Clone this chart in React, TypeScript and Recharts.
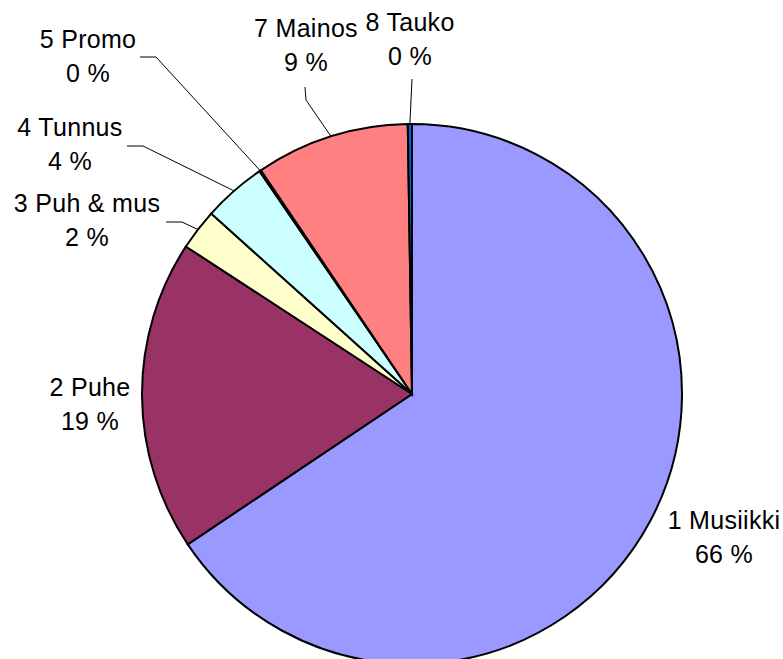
import { PieChart, Pie, Cell } from 'recharts';

// 番組内容の内訳
const categories = ['1 Musiikki', '2 Puhe', '3 Puh & mus', '4 Tunnus', '5 Promo', '7 Mainos', '8 Tauko'];
const values = [65.6, 18.6, 2.45, 3.8, 0.1, 9.2, 0.25];
const colors = ['#9999FF', '#993366', '#FFFFCC', '#CCFFFF', '#660066', '#FF8080', '#0066CC'];

// ラベル位置（円の中心からの相対座標）と引き出し線の折れ点
const labelOffsets: [number, number][] = [
  [312, 126],
  [-322, -7],
  [-325, -191],
  [-342, -267],
  [-324, -355],
  [-106, -366],
  [-2, -372],
];
const leaderPoints: ([number, number][] | null)[] = [
  null,
  null,
  [[-246, -172], [-230, -172]],
  [[-285, -248], [-269, -248]],
  [[-272, -337], [-256, -337]],
  [[-107, -307], [-106, -294]],
  [[0, -315]],
];

const RAD = Math.PI / 180;
const FONT = '"Liberation Sans", Arial, sans-serif';

const chartData = categories.map((name, i) => ({ name, value: values[i] }));

function renderLabel(props: any) {
  const { cx, cy, midAngle, outerRadius, index, percent, name } = props;
  const [dx, dy] = labelOffsets[index];
  const tx = cx + dx;
  const ty = cy + dy;
  const pts = leaderPoints[index];
  let path = null;
  if (pts) {
    const ax = cx + outerRadius * Math.cos(-midAngle * RAD);
    const ay = cy + outerRadius * Math.sin(-midAngle * RAD);
    const d =
      pts.map(([px, py], k) => `${k === 0 ? 'M' : 'L'}${cx + px},${cy + py}`).join(' ') + ` L${ax},${ay}`;
    path = <path d={d} stroke="#000" strokeWidth={1} fill="none" />;
  }
  return (
    <g key={`label-${index}`}>
      {path}
      <text
        x={tx}
        y={ty}
        textAnchor="middle"
        dominantBaseline="central"
        fontFamily={FONT}
        fontSize={25}
        letterSpacing={0.3}
        fill="#000"
      >
        {name}
      </text>
      <text
        x={tx}
        y={ty + 34}
        textAnchor="middle"
        dominantBaseline="central"
        fontFamily={FONT}
        fontSize={25}
        letterSpacing={0.3}
        fill="#000"
      >
        {`${Math.round(percent * 100)} %`}
      </text>
    </g>
  );
}

export default function App() {
  return (
    <div style={{ width: 783, height: 659, background: '#fff' }}>
      <style>{'body{margin:0;overflow:hidden}'}</style>
      <PieChart width={783} height={659} margin={{ top: 0, right: 0, bottom: 0, left: 0 }}>
        <Pie
          data={chartData}
          dataKey="value"
          nameKey="name"
          cx={412}
          cy={394}
          outerRadius={270}
          startAngle={90}
          endAngle={-270}
          stroke="#000"
          strokeWidth={2}
          label={renderLabel}
          labelLine={false}
          isAnimationActive={false}
        >
          {chartData.map((d, i) => (
            <Cell key={d.name} fill={colors[i]} />
          ))}
        </Pie>
      </PieChart>
    </div>
  );
}
